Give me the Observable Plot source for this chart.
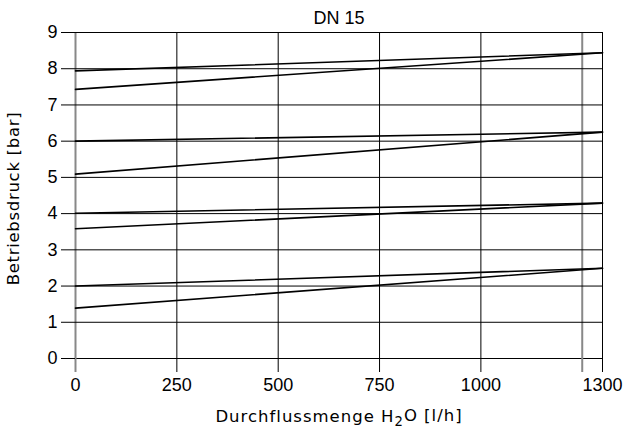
<!DOCTYPE html>
<html><head><meta charset="utf-8">
<script src="https://cdn.jsdelivr.net/npm/d3@7"></script>
<script src="https://cdn.jsdelivr.net/npm/@observablehq/plot@0.6"></script>
<style>html,body{margin:0;padding:0;background:#fff}</style>
</head><body><div id="chart"></div>
<script>
const title = "DN 15";
const xLabel = "Durchflussmenge H2O [l/h]";
const yLabel = "Betriebsdruck [bar]";
const flow = [0, 1300];
const xTicks = [0, 250, 500, 750, 1000, 1250, 1300];
const xTickLabels = ["0", "250", "500", "750", "1000", "", "1300"];
const xGrayTicks = [0, 1250];
const yTicks = [0, 1, 2, 3, 4, 5, 6, 7, 8, 9];
const startUpper = [7.94, 6.00, 4.01, 2.00];
const startLower = [7.43, 5.09, 3.58, 1.39];
const endValues = [8.44, 6.25, 4.29, 2.49];

const rows = [];
startUpper.forEach((v, i) => {
  rows.push({id: "u" + i, x: flow[0], y: v}, {id: "u" + i, x: flow[1], y: endValues[i]});
});
startLower.forEach((v, i) => {
  rows.push({id: "l" + i, x: flow[0], y: v}, {id: "l" + i, x: flow[1], y: endValues[i]});
});

const tickFont = "'Liberation Sans', Arial, sans-serif";
const labelFont = "'DejaVu Sans', sans-serif";

const chart = Plot.plot({
  width: 625, height: 436,
  marginLeft: 75, marginRight: 23, marginTop: 32, marginBottom: 78,
  style: {fontFamily: tickFont, fontSize: "18px", background: "white", color: "black"},
  x: {domain: [0, 1300]},
  y: {domain: [0, 9]},
  marks: [
    Plot.gridX(xTicks.filter(d => !xGrayTicks.includes(d)), {stroke: "black", strokeOpacity: 1, strokeWidth: 1}),
    Plot.gridX(xGrayTicks, {stroke: "#888", strokeOpacity: 1, strokeWidth: 2}),
    Plot.gridY(yTicks, {stroke: "black", strokeOpacity: 1, strokeWidth: 1}),
    Plot.axisX(xTicks.filter(d => !xGrayTicks.includes(d)), {tickSize: 14, tickPadding: 6, tickFormat: d => xTickLabels[xTicks.indexOf(d)], label: null, stroke: "black", fontSize: 18}),
    Plot.axisX(xGrayTicks, {tickSize: 14, tickPadding: 6, tickFormat: d => xTickLabels[xTicks.indexOf(d)], label: null, stroke: "#888", strokeWidth: 2, fontSize: 18}),
    Plot.axisY(yTicks, {tickSize: 14, tickPadding: 4, label: null, stroke: "black", fontSize: 18}),
    Plot.line(rows, {x: "x", y: "y", z: "id", stroke: "black", strokeWidth: 1.6}),
    Plot.text([title], {frameAnchor: "top", lineAnchor: "bottom", dy: -9, fontSize: 18, fontFamily: tickFont}),
    Plot.text([xLabel], {frameAnchor: "bottom", lineAnchor: "top", dy: 52, fontSize: 16.5, fontFamily: labelFont}),
    Plot.text([yLabel], {frameAnchor: "left", textAnchor: "middle", rotate: -90, lineAnchor: "top", dx: -68, dy: 3, fontSize: 16.5, fontFamily: labelFont})
  ]
});
document.getElementById("chart").appendChild(chart);

d3.select(chart).selectAll("text").each(function() {
  const t = this.textContent;
  if (t === xLabel) {
    const s = d3.select(this).style("letter-spacing", "1px");
    s.text(null);
    s.append("tspan").text("Durchflussmenge H");
    s.append("tspan").attr("dy", "0.3em").attr("font-size", "0.8em").text("2");
    s.append("tspan").attr("dy", "-0.3em").text("O [l/h]");
  } else if (t === yLabel) {
    d3.select(this).style("letter-spacing", "0.7px");
  }
});
</script>
</body></html>
